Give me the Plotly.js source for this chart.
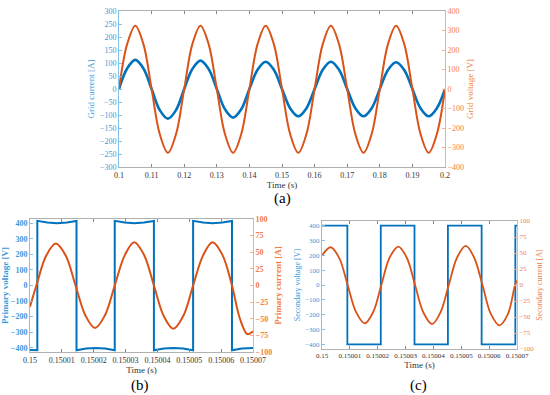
<!DOCTYPE html>
<html>
<head>
<meta charset="utf-8">
<script src="https://cdn.plot.ly/plotly-3.0.1.min.js"></script>
<style>html,body{margin:0;padding:0;background:#fff;}#chart{width:550px;height:395px;}</style>
</head>
<body>
<div id="chart"></div>
<script>
// ---------- Panel (a): grid current / grid voltage ----------
const timeA = [0.1, 0.1025, 0.105, 0.1075, 0.11, 0.1125, 0.115, 0.1175, 0.12, 0.1225,
  0.125, 0.1275, 0.13, 0.1325, 0.135, 0.1375, 0.14, 0.1425, 0.145, 0.1475,
  0.15, 0.1525, 0.155, 0.1575, 0.16, 0.1625, 0.165, 0.1675, 0.17, 0.1725,
  0.175, 0.1775, 0.18, 0.1825, 0.185, 0.1875, 0.19, 0.1925, 0.195, 0.1975, 0.2];
const gridCurrent = [0, 79, 112, 79, 0, -81, -114, -81, 0, 77,
  109, 77, 0, -78, -110, -78, 0, 74, 105, 74,
  0, -74, -105, -74, 0, 74, 105, 74, 0, -74,
  -105, -74, 0, 73, 103, 73, 0, -74, -105, -74, 0];
const gridVoltage = [0, 230, 325, 230, 0, -231, -327, -231, 0, 230,
  325, 230, 0, -231, -327, -231, 0, 230, 325, 230,
  0, -231, -327, -231, 0, 230, 325, 230, 0, -231,
  -327, -231, 0, 230, 325, 230, 0, -231, -327, -231, 0];
const ticksA = [0.1, 0.11, 0.12, 0.13, 0.14, 0.15, 0.16, 0.17, 0.18, 0.19, 0.2];
const tickTextA = ['0.1', '0.11', '0.12', '0.13', '0.14', '0.15', '0.16', '0.17', '0.18', '0.19', '0.2'];

// ---------- Panel (b): primary voltage / primary current ----------
const timeBv = [0.15, 0.1500023, 0.1500023, 0.1500054, 0.1500085, 0.1500116, 0.1500146,
  0.1500146, 0.1500176, 0.1500206, 0.1500236, 0.1500266,
  0.1500266, 0.1500297, 0.1500328, 0.1500358, 0.1500389,
  0.1500389, 0.150042, 0.150045, 0.1500481, 0.1500512,
  0.1500512, 0.1500543, 0.1500573, 0.1500604, 0.1500634,
  0.1500634, 0.1500665, 0.15007];
const primaryVoltage = [-414, -416, 415, 404, 400, 404, 414,
  -416, -405, -401, -405, -416,
  415, 404, 400, 404, 414,
  -416, -405, -401, -405, -416,
  415, 404, 400, 404, 414,
  -416, -405, -401];
const timeBi = [0.15, 0.150002, 0.1500051, 0.1500081, 0.1500112, 0.1500143, 0.1500174,
  0.1500204, 0.1500235, 0.1500266, 0.1500297, 0.1500327, 0.1500358, 0.1500389,
  0.150042, 0.150045, 0.1500481, 0.1500512, 0.1500543, 0.1500573, 0.1500604,
  0.1500634, 0.1500659, 0.1500682, 0.15007];
const primaryCurrent = [-32, 0, 45, 63, 45, 0, -45,
  -64, -45, 0, 45, 65, 46, 0,
  -46, -65, -46, 0, 45, 65, 46,
  0, -50, -73, -69];

// ---------- Panel (c): secondary voltage / secondary current ----------
const timeCv = [0.15, 0.1500091, 0.1500091, 0.1500211, 0.1500211, 0.1500332, 0.1500332,
  0.1500452, 0.1500452, 0.1500573, 0.1500573, 0.1500694, 0.1500694, 0.15007];
const secondaryVoltage = [402, 402, -402, -402, 402, 402, -402,
  -402, 402, 402, -402, -402, 402, 402];
const timeCi = [0.15, 0.1500031, 0.1500062, 0.1500092, 0.1500122, 0.1500153, 0.1500183,
  0.1500213, 0.1500243, 0.1500274, 0.1500304, 0.1500334, 0.1500364, 0.1500395,
  0.1500425, 0.1500455, 0.1500485, 0.1500516, 0.1500546, 0.1500576, 0.1500606,
  0.1500637, 0.1500667, 0.1500693, 0.15007];
const secondaryCurrent = [46, 59, 42, 0, -42, -60, -43,
  0, 43, 60, 43, 0, -43, -61,
  -43, 0, 43, 61, 43, 0, -45,
  -63, -46, 0, 7];

const ticksBC = [0.15, 0.15001, 0.15002, 0.15003, 0.15004, 0.15005, 0.15006, 0.15007];
const tickTextBC = ['0.15', '0.15001', '0.15002', '0.15003', '0.15004', '0.15005', '0.15006', '0.15007'];

// ---------- styling ----------
const BLUE = '#0072BD', ORANGE = '#D95319';
const BLUE_TXT = '#3d97d8', ORANGE_TXT = '#ee7e48';
const BLUE_AX = '#86bfe8', ORANGE_AX = '#f4b08e';
const SERIF = 'Liberation Serif, serif';

const W = 550, H = 395;
function dx(a, b) { return [a / W, b / W]; }
function dy(top, bottom) { return [1 - bottom / H, 1 - top / H]; }

function xAxis(domain, anchor, range, tv, tt, titleText, fs, standoff) {
  return {
    domain: domain, anchor: anchor, range: range,
    tickvals: tv, ticktext: tt, tickangle: 0,
    ticks: 'inside', ticklen: 3, tickcolor: '#888',
    showline: true, linecolor: '#b0b0b0', linewidth: 1, mirror: 'ticks',
    showgrid: false, zeroline: false,
    tickfont: {family: SERIF, size: fs, color: '#333'},
    title: {text: titleText, font: {family: SERIF, size: 9, color: '#333'}, standoff: standoff}
  };
}
function yAxis(domain, anchor, range, dtick, col, axcol, titleText, side, overlay, bold, standoff, fs) {
  const ax = {
    domain: domain, anchor: anchor, range: range, dtick: dtick, tick0: 0,
    ticks: 'inside', ticklen: 3, tickcolor: axcol,
    showline: true, linecolor: axcol, linewidth: 1,
    showgrid: false, zeroline: false,
    tickfont: {family: SERIF, size: fs, color: col, weight: bold ? 'bold' : 'normal'},
    title: {text: titleText, font: {family: SERIF, size: fs + 1, color: col, weight: bold ? 'bold' : 'normal'}, standoff: standoff},
    side: side
  };
  if (overlay) { ax.overlaying = overlay; delete ax.domain; }
  return ax;
}

const traces = [
  {x: timeA, y: gridCurrent, xaxis: 'x', yaxis: 'y', type: 'scatter', mode: 'lines',
   line: {color: BLUE, width: 2.6, shape: 'spline', smoothing: 1}, name: 'Grid current'},
  {x: timeA, y: gridVoltage, xaxis: 'x', yaxis: 'y2', type: 'scatter', mode: 'lines',
   line: {color: ORANGE, width: 2, shape: 'spline', smoothing: 1}, name: 'Grid voltage'},
  {x: timeBv, y: primaryVoltage, xaxis: 'x2', yaxis: 'y3', type: 'scatter', mode: 'lines',
   line: {color: BLUE, width: 2}, name: 'Primary voltage'},
  {x: timeBi, y: primaryCurrent, xaxis: 'x2', yaxis: 'y4', type: 'scatter', mode: 'lines',
   line: {color: ORANGE, width: 2, shape: 'spline', smoothing: 1}, name: 'Primary current'},
  {x: timeCv, y: secondaryVoltage, xaxis: 'x3', yaxis: 'y5', type: 'scatter', mode: 'lines',
   line: {color: BLUE, width: 1.8}, name: 'Secondary voltage'},
  {x: timeCi, y: secondaryCurrent, xaxis: 'x3', yaxis: 'y6', type: 'scatter', mode: 'lines',
   line: {color: ORANGE, width: 1.8, shape: 'spline', smoothing: 1}, name: 'Secondary current'}
];

const layout = {
  width: W, height: H,
  margin: {l: 0, r: 0, t: 0, b: 0},
  paper_bgcolor: '#fff', plot_bgcolor: '#fff',
  showlegend: false,
  xaxis: xAxis(dx(119, 445), 'y', [0.1, 0.2], ticksA, tickTextA, 'Time (s)', 8, 2),
  yaxis: yAxis(dy(11, 167), 'x', [-300, 300], 50, BLUE_TXT, BLUE_AX, 'Grid current [A]', 'left', null, false, 3, 8),
  yaxis2: yAxis(null, 'x', [-400, 400], 100, ORANGE_TXT, ORANGE_AX, 'Grid voltage [V]', 'right', 'y', false, 3, 8),
  xaxis2: xAxis(dx(30, 253), 'y3', [0.15, 0.15007], ticksBC, tickTextBC, 'Time (s)', 8, 2),
  yaxis3: yAxis(dy(219, 352), 'x2', [-427, 427], 100, BLUE_TXT, BLUE_AX, 'Primary voltage [V]', 'left', null, true, 2, 8),
  yaxis4: yAxis(null, 'x2', [-100, 100], 25, ORANGE_TXT, ORANGE_AX, 'Primary current [A]', 'right', 'y3', true, 3, 8),
  xaxis3: xAxis(dx(322, 517), 'y5', [0.15, 0.15007], ticksBC, tickTextBC, 'Time (s)', 7, 1),
  yaxis5: yAxis(dy(221, 349), 'x3', [-433, 433], 100, BLUE_TXT, BLUE_AX, 'Secondary voltage [V]', 'left', null, false, 3, 7),
  yaxis6: yAxis(null, 'x3', [-100, 100], 25, ORANGE_TXT, ORANGE_AX, 'Secondary current [A]', 'right', 'y5', false, 3, 7),
  annotations: [
    {text: '(a)', xref: 'paper', yref: 'paper', x: 282 / W, y: 1 - 198 / H, showarrow: false,
     font: {family: SERIF, size: 15, color: '#000'}, xanchor: 'center', yanchor: 'middle'},
    {text: '(b)', xref: 'paper', yref: 'paper', x: 140 / W, y: 1 - 385 / H, showarrow: false,
     font: {family: SERIF, size: 15, color: '#000'}, xanchor: 'center', yanchor: 'middle'},
    {text: '(c)', xref: 'paper', yref: 'paper', x: 418 / W, y: 1 - 385 / H, showarrow: false,
     font: {family: SERIF, size: 15, color: '#000'}, xanchor: 'center', yanchor: 'middle'}
  ]
};

Plotly.newPlot('chart', traces, layout, {displayModeBar: false, staticPlot: true});
</script>
</body>
</html>
